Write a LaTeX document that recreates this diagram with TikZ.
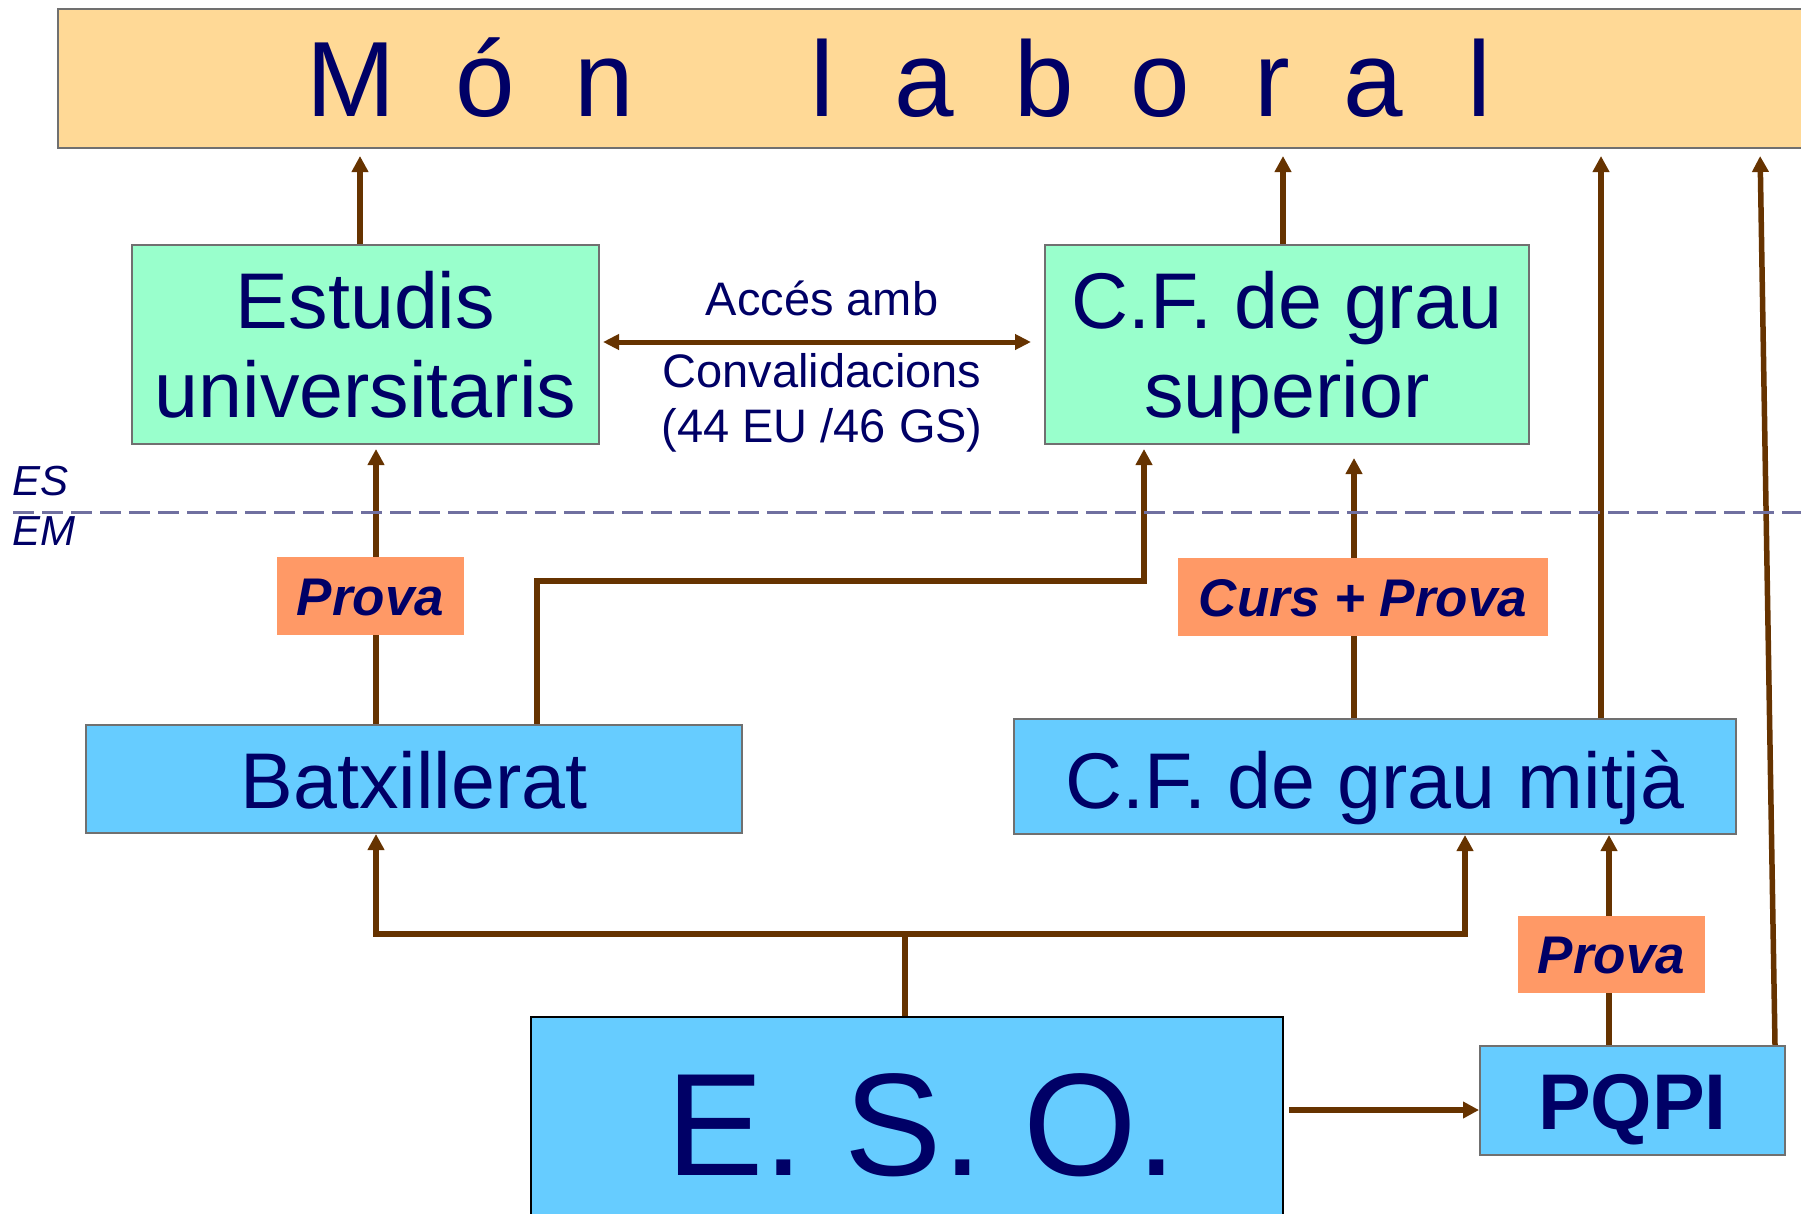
\documentclass[tikz,border=0pt]{standalone}
\usepackage{fontspec}
\setmainfont{Liberation Sans}
\usetikzlibrary{arrows.meta,calc}
\definecolor{navy}{HTML}{000066}
\definecolor{peach}{HTML}{FFD996}
\definecolor{mint}{HTML}{99FFCC}
\definecolor{sky}{HTML}{66CCFF}
\definecolor{salmon}{HTML}{FF9966}
\definecolor{brownln}{HTML}{663300}
\definecolor{boxgrey}{HTML}{707070}
\definecolor{dashcol}{HTML}{7070A0}
\pgfdeclarelayer{bg}
\pgfsetlayers{bg,main}
\tikzset{
  box/.style={draw=boxgrey, line width=2pt, inner sep=0pt, text=navy, align=center},
  lab/.style={fill=salmon, inner sep=0pt, text=navy, font=\fontsize{53}{53}\selectfont\bfseries\itshape, text height=38pt, text depth=0pt, minimum height=78pt},
  arr/.style={draw=brownln, line width=5.5pt, -{Triangle[length=16pt,width=16pt]}},
  dbl/.style={draw=brownln, line width=5pt, {Triangle[length=16pt,width=15pt]}-{Triangle[length=16pt,width=15pt]}},
  plain/.style={text=navy, inner sep=0pt}
}
\begin{document}
\begin{tikzpicture}[x=1pt,y=-1pt]
\useasboundingbox (0,0) rectangle (1801,1213);
% boxes
\node[box, fill=peach, minimum width=1763pt, minimum height=139pt, anchor=north west] (mon) at (57,8) {};
\node[plain, anchor=base west, font=\fontsize{107}{107}\selectfont] (montext) at (306,116)
  {M\hspace{60pt}ó\hspace{60pt}n\hspace{176pt}l\hspace{60pt}a\hspace{61pt}b\hspace{57pt}o\hspace{64pt}r\hspace{53pt}a\hspace{65pt}l};
\node[box, fill=mint, minimum width=467pt, minimum height=199pt, font=\fontsize{79}{89}\selectfont, text depth=0pt] (estudis) at (365.5,344.5) {Estudis\\universitaris};
\node[box, fill=mint, minimum width=484pt, minimum height=199pt, font=\fontsize{79}{89}\selectfont, text depth=0pt] (cfsup) at (1287,344.5) {C.F. de grau\\superior};
\node[box, fill=sky, minimum width=656pt, minimum height=108pt, font=\fontsize{79}{89}\selectfont, text height=58pt, text depth=0pt] (batx) at (414,779) {Batxillerat};
\node[box, fill=sky, minimum width=722pt, minimum height=115pt, font=\fontsize{79}{89}\selectfont, text height=63pt, text depth=0pt] (cfmit) at (1375,776.5) {C.F. de grau mitjà};
\node[box, draw=black, fill=sky, minimum width=752pt, minimum height=223pt] (eso) at (907,1128.5) {};
\node[plain, anchor=base, font=\fontsize{146}{146}\selectfont] (esotext) at (922,1175) {E. S. O.};
\node[box, fill=sky, minimum width=305pt, minimum height=109pt, font=\fontsize{79}{79}\selectfont\bfseries, text height=57pt, text depth=0pt] (pqpi) at (1632.5,1100.5) {PQPI};
\node[lab, minimum width=187pt] (prova1) at (370.5,596) {Prova};
\node[lab, minimum width=370pt] (cursprova) at (1363,597) {Curs + Prova};
\node[lab, minimum width=187pt, minimum height=77pt] (prova2) at (1611.5,954.5) {Prova};
% texts
\node[plain, anchor=base, font=\fontsize{47}{47}\selectfont] (acces) at (822,315) {Accés amb};
\node[plain, anchor=base, font=\fontsize{47}{47}\selectfont] (conv) at (822,387) {Convalidacions};
\node[plain, anchor=base, font=\fontsize{47}{47}\selectfont] (eugs) at (822,442) {(44 EU /46 GS)};
\node[plain, anchor=base west, font=\fontsize{42}{42}\selectfont\itshape] (es) at (12,495) {ES};
\node[plain, anchor=base west, font=\fontsize{42}{42}\selectfont\itshape] (em) at (12,545) {EM};
% column coordinates
\coordinate (xA) at (360,0);
\coordinate (xB) at (1283,0);
\coordinate (xC) at (1601,0);
\coordinate (xD1) at (1775,0);
\coordinate (xD2) at (1760,0);
\coordinate (xE) at (376,0);
\coordinate (xF) at (537,0);
\coordinate (xG) at (1144,0);
\coordinate (yH) at (0,581);
\coordinate (xI) at (1354,0);
\coordinate (xJ) at (905,0);
\coordinate (yBus) at (0,934);
\coordinate (xK) at (1465,0);
\coordinate (xL) at (1609,0);
\coordinate (yM) at (0,1110);
\coordinate (yDbl) at (0,342);
\coordinate (dashL) at (13,512);
\coordinate (dashR) at (1801,512);
\begin{pgfonlayer}{bg}
\draw[arr, shorten >=7pt] (estudis.north -| xA) -- (mon.south -| xA);
\draw[arr, shorten >=7pt] (cfsup.north -| xB) -- (mon.south -| xB);
\draw[arr, shorten >=7pt] (cfmit.north -| xC) -- (mon.south -| xC);
\draw[arr, shorten >=7pt] (pqpi.north -| xD1) -- (mon.south -| xD2);
\draw[arr, shorten >=4pt] (batx.north -| xE) -- (estudis.south -| xE);
\draw[arr, shorten >=4pt] (batx.north -| xF) |- (yH -| xG) -- (cfsup.south -| xG);
\draw[arr, shorten >=13pt] (cfmit.north -| xI) -- (cfsup.south -| xI);
\draw[arr] (eso.north -| xJ) |- (yBus -| xE) -- (batx.south -| xE);
\draw[arr] (eso.north -| xJ) |- (yBus -| xK) -- (cfmit.south -| xK);
\draw[arr] (pqpi.north -| xL) -- (cfmit.south -| xL);
\draw[arr, shorten <=5pt] (eso.east |- yM) -- (pqpi.west |- yM);
\draw[dbl, shorten <=3pt, shorten >=13pt] (estudis.east |- yDbl) -- (cfsup.west |- yDbl);
\draw[dashcol, line width=3pt, dash pattern=on 21pt off 8pt] (dashL) -- (dashR);
\end{pgfonlayer}
\end{tikzpicture}
\end{document}
